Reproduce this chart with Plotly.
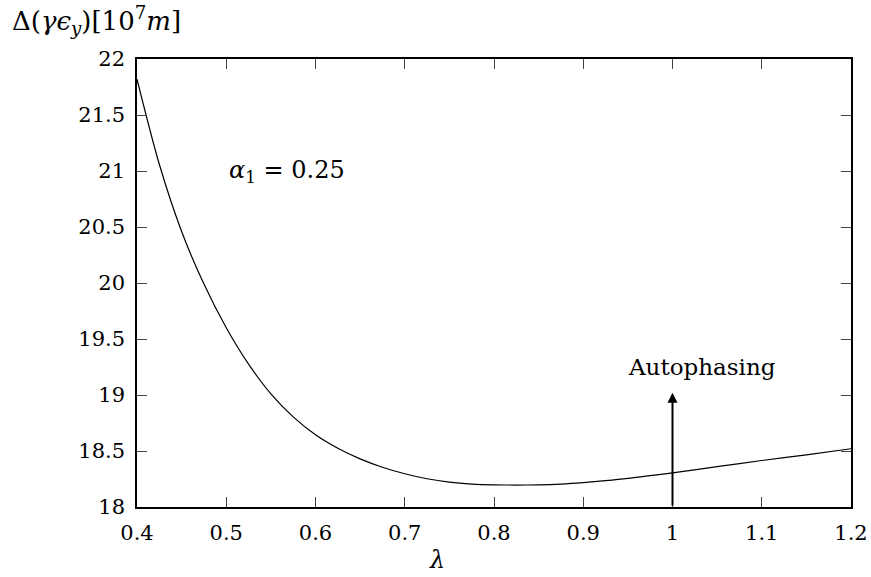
import plotly.graph_objects as go

lam = [0.400, 0.425, 0.450, 0.475, 0.500, 0.525, 0.550, 0.575, 0.600, 0.625,
       0.650, 0.675, 0.700, 0.725, 0.750, 0.775, 0.800, 0.825, 0.850, 0.875,
       0.900, 0.925, 0.950, 0.975, 1.000, 1.050, 1.100, 1.150, 1.200]
emit = [21.82, 21.06, 20.46, 19.99, 19.60, 19.275, 19.01, 18.805, 18.645, 18.525,
        18.43, 18.355, 18.297, 18.252, 18.222, 18.205, 18.198, 18.196, 18.198, 18.205,
        18.218, 18.235, 18.255, 18.28, 18.305, 18.36, 18.415, 18.465, 18.52]

xticks = [0.4, 0.5, 0.6, 0.7, 0.8, 0.9, 1.0, 1.1, 1.2]
xtick_text = ["0.4", "0.5", "0.6", "0.7", "0.8", "0.9", "1", "1.1", "1.2"]
yticks = [18, 18.5, 19, 19.5, 20, 20.5, 21, 21.5, 22]
ytick_text = ["18", "18.5", "19", "19.5", "20", "20.5", "21", "21.5", "22"]

font = "DejaVu Serif"

fig = go.Figure()
fig.add_trace(go.Scatter(x=lam, y=emit, mode="lines",
                         line=dict(color="black", width=1.2, shape="spline", smoothing=0.8),
                         showlegend=False, hoverinfo="skip"))

axis_common = dict(showline=True, mirror="ticks", linecolor="black", linewidth=1.5,
                   ticks="inside", ticklen=10, tickcolor="#444444", tickwidth=1,
                   showgrid=False, zeroline=False, automargin=False,
                   tickfont=dict(family=font, size=21, color="black"))

fig.update_xaxes(range=[0.4, 1.2], tickvals=xticks, ticktext=xtick_text, ticklabelstandoff=6, **axis_common)
fig.update_yaxes(range=[18, 22], tickvals=yticks, ticktext=ytick_text, ticklabelstandoff=6, **axis_common)

fig.add_annotation(x=1.0, y=19.02, ax=1.0, ay=18.0, xref="x", yref="y", axref="x", ayref="y",
                   showarrow=True, arrowhead=2, arrowsize=1, arrowwidth=2, arrowcolor="black", text="")
fig.add_annotation(x=1.033, y=19.25, xref="x", yref="y", text="Autophasing", showarrow=False,
                   font=dict(family=font, size=23, color="black"))
fig.add_annotation(x=0.568, y=21.0, xref="x", yref="y", text="<i>α</i><sub>1</sub> = 0.25", showarrow=False,
                   font=dict(family=font, size=24, color="black"))
fig.add_annotation(x=-0.178, y=1.087, xref="paper", yref="paper", xanchor="left", yanchor="middle",
                   text="Δ(<i>γϵ</i><sub><i>y</i></sub>)[10<sup>7</sup><i>m</i>]", showarrow=False,
                   font=dict(family=font, size=26, color="black"))
fig.add_annotation(x=0.42, y=-0.118, xref="paper", yref="paper", yanchor="middle",
                   text="<i>λ</i>", showarrow=False,
                   font=dict(family=font, size=24, color="black"))

fig.update_layout(width=871, height=577, margin=dict(l=137, r=20, t=59, b=70, autoexpand=False),
                  plot_bgcolor="white", paper_bgcolor="white")

fig.write_html("out.html")
